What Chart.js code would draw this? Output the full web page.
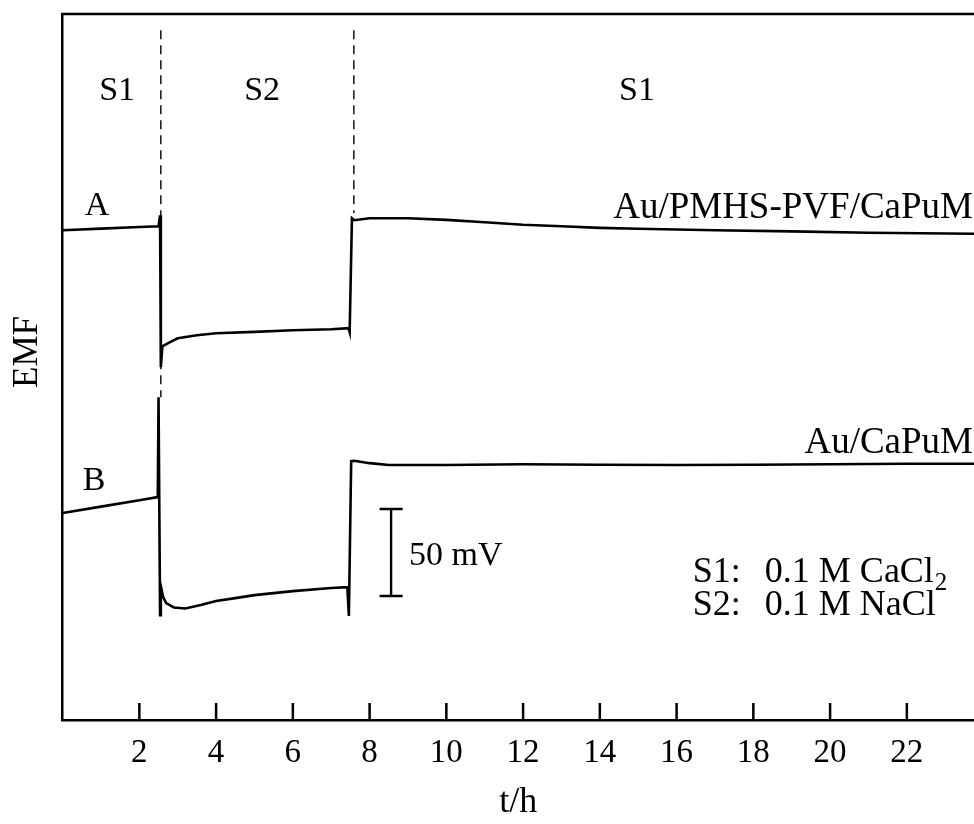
<!DOCTYPE html>
<html>
<head>
<meta charset="utf-8">
<title>EMF vs time</title>
<script src="https://cdn.jsdelivr.net/npm/chart.js@4.4.1/dist/chart.umd.min.js"></script>
<style>
  html, body { margin: 0; padding: 0; background: #fff; }
  #wrap { width: 974px; height: 824px; }
</style>
</head>
<body>
<div id="wrap"><canvas id="chart-canvas" width="974" height="824"></canvas></div>
<script>
// ----- values: t in hours, EMF in mV (arbitrary zero) -----
var timeA = [0, 1.0, 2.0, 2.5, 2.54, 2.56, 2.60, 2.75, 3.0, 3.5, 4.0, 5.0, 6.0, 7.0, 7.45, 7.48,
  7.54, 7.6, 8.0, 9.0, 10.0, 11.0, 12.0, 13.0, 14.0, 15.0, 17.0, 19.0, 21.0, 23.75];
var emfA = [281.6, 282.6, 283.5, 283.9, 290.2, 202.9, 214.9, 216.7, 219.5, 221.3, 222.4, 223.2, 224.1, 224.7, 225.3, 223.0,
  288.5, 287.4, 288.5, 288.5, 287.6, 286.2, 284.8, 283.9, 283.0, 282.5, 281.6, 281.0, 280.2, 279.6];

var timeB = [0, 1.0, 2.0, 2.48, 2.50, 2.54, 2.56, 2.62, 2.7, 2.9, 3.2, 3.6, 4.0, 4.5, 5.0, 6.0, 7.0, 7.42, 7.46,
  7.52, 7.6, 8.0, 8.5, 10.0, 12.0, 14.0, 16.0, 18.0, 20.0, 22.0, 23.75];
var emfB = [119.0, 122.7, 126.4, 128.2, 185.6, 60.3, 77.0, 70.7, 67.2, 64.7, 64.1, 66.1, 68.4, 70.1, 71.8, 74.1, 75.9, 76.4, 59.8,
  148.9, 149.1, 147.7, 146.6, 146.6, 147.1, 146.8, 146.6, 146.8, 147.1, 147.4, 147.4];

// solution switch times (dashed lines) and how far down each dashed line reaches
var switchTimes = [2.56, 7.59];
var switchTop = 396.6;
var switchBottom = [185.6, 291.4];

// 50 mV scale bar
var barTime = 8.56;
var barLow = 71.3;
var barSpan = 50;

var tickHours = [2, 4, 6, 8, 10, 12, 14, 16, 18, 20, 22];
var T_MAX = 23.75;
var EMF_MAX = 406;

var SERIF = "'Liberation Serif', 'Times New Roman', serif";

function toPoints(xs, ys) {
  return xs.map(function(x, i) { return { x: x, y: ys[i] }; });
}

// scale bar as three segments, broken with null gaps
var barHigh = barLow + barSpan;
var barPoints = [
  { x: barTime - 0.3, y: barHigh }, { x: barTime + 0.3, y: barHigh }, { x: barTime, y: null },
  { x: barTime, y: barHigh }, { x: barTime, y: barLow }, { x: barTime, y: null },
  { x: barTime - 0.3, y: barLow }, { x: barTime + 0.3, y: barLow }
];

var datasets = [
  { label: "Au/PMHS-PVF/CaPuM", data: toPoints(timeA, emfA), borderWidth: 2.6 },
  { label: "Au/CaPuM", data: toPoints(timeB, emfB), borderWidth: 2.6 },
  { label: "50 mV", data: barPoints, borderWidth: 2.4, spanGaps: false }
];
switchTimes.forEach(function(t, i) {
  datasets.push({
    label: "switch " + (i + 1),
    data: [{ x: t, y: switchTop }, { x: t, y: switchBottom[i] }],
    borderWidth: 1.4,
    borderDash: [9, 6]
  });
});
datasets.forEach(function(d) {
  d.borderColor = "#000";
  d.pointRadius = 0;
  d.tension = 0;
  d.fill = false;
});

// text placed in data coordinates: [text, t, emf, align, font size]
var notes = [
  ["S1", 1.42, 356.3, "center", 34],
  ["S2", 5.2, 356.3, "center", 34],
  ["S1", 14.97, 356.3, "center", 34],
  ["A", 0.9, 290.2, "center", 34],
  ["B", 0.82, 132.2, "center", 34],
  ["Au/PMHS-PVF/CaPuM", T_MAX, 288.5, "right", 37],
  ["Au/CaPuM", T_MAX, 153.4, "right", 37],
  ["50 mV", 9.03, 89.1, "left", 34],
  ["S1:", 16.42, 79.3, "left", 36],
  ["S2:", 16.42, 60.3, "left", 36],
  ["0.1 M NaCl", 18.3, 60.3, "left", 36]
];

var figurePlugin = {
  id: "figureExtras",
  afterDraw: function(chart) {
    var ctx = chart.ctx;
    var xs = chart.scales.x;
    var ys = chart.scales.y;
    var area = chart.chartArea;
    ctx.save();
    ctx.strokeStyle = "#000";
    ctx.lineWidth = 2.5;
    // top frame and inward ticks
    ctx.beginPath();
    ctx.moveTo(area.left - 1.25, area.top);
    ctx.lineTo(area.right, area.top);
    tickHours.forEach(function(h) {
      var px = xs.getPixelForValue(h);
      ctx.moveTo(px, area.bottom);
      ctx.lineTo(px, area.bottom - 17);
    });
    ctx.stroke();

    ctx.fillStyle = "#000";
    ctx.textBaseline = "alphabetic";
    notes.forEach(function(n) {
      var px = xs.getPixelForValue(n[1]);
      if (n[3] === "right") px -= 1;
      ctx.font = n[4] + "px " + SERIF;
      ctx.textAlign = n[3];
      ctx.fillText(n[0], px, ys.getPixelForValue(n[2]));
    });
    // CaCl2 with subscript
    ctx.textAlign = "left";
    ctx.font = "36px " + SERIF;
    var cx = xs.getPixelForValue(18.3);
    var cy = ys.getPixelForValue(79.3);
    var main = "0.1 M CaCl";
    ctx.fillText(main, cx, cy);
    var w = ctx.measureText(main).width;
    ctx.font = "25px " + SERIF;
    ctx.fillText("2", cx + w + 1, cy + 8);

    // EMF axis title
    ctx.font = "35px " + SERIF;
    ctx.translate(28, 352);
    ctx.rotate(-Math.PI / 2);
    ctx.textAlign = "center";
    ctx.textBaseline = "middle";
    ctx.fillText("EMF", 0, 0);
    ctx.restore();
  }
};

var canvas = document.getElementById("chart-canvas");
new Chart(canvas.getContext("2d"), {
  type: "line",
  data: { datasets: datasets },
  options: {
    responsive: false,
    animation: false,
    events: [],
    layout: { padding: { top: 14, right: 0, bottom: 0, left: 0 } },
    plugins: { legend: { display: false }, tooltip: { enabled: false } },
    scales: {
      x: {
        type: "linear",
        min: 0,
        max: T_MAX,
        grid: { display: false, drawTicks: false },
        border: { color: "#000", width: 2.5 },
        ticks: {
          color: "#000",
          padding: 14,
          maxRotation: 0,
          autoSkip: false,
          font: { family: SERIF, size: 33 }
        },
        afterBuildTicks: function(scale) {
          scale.ticks = tickHours.map(function(h) { return { value: h }; });
        },
        afterFit: function(scale) { scale.height = 104; },
        title: {
          display: true,
          text: "t/h",
          color: "#000",
          padding: 0,
          font: { family: SERIF, size: 36 }
        }
      },
      y: {
        type: "linear",
        min: 0,
        max: EMF_MAX,
        grid: { display: false, drawTicks: false },
        border: { color: "#000", width: 2.5 },
        ticks: { display: false },
        afterFit: function(scale) { scale.width = 62.6; }
      }
    }
  },
  plugins: [figurePlugin]
});
</script>
</body>
</html>
